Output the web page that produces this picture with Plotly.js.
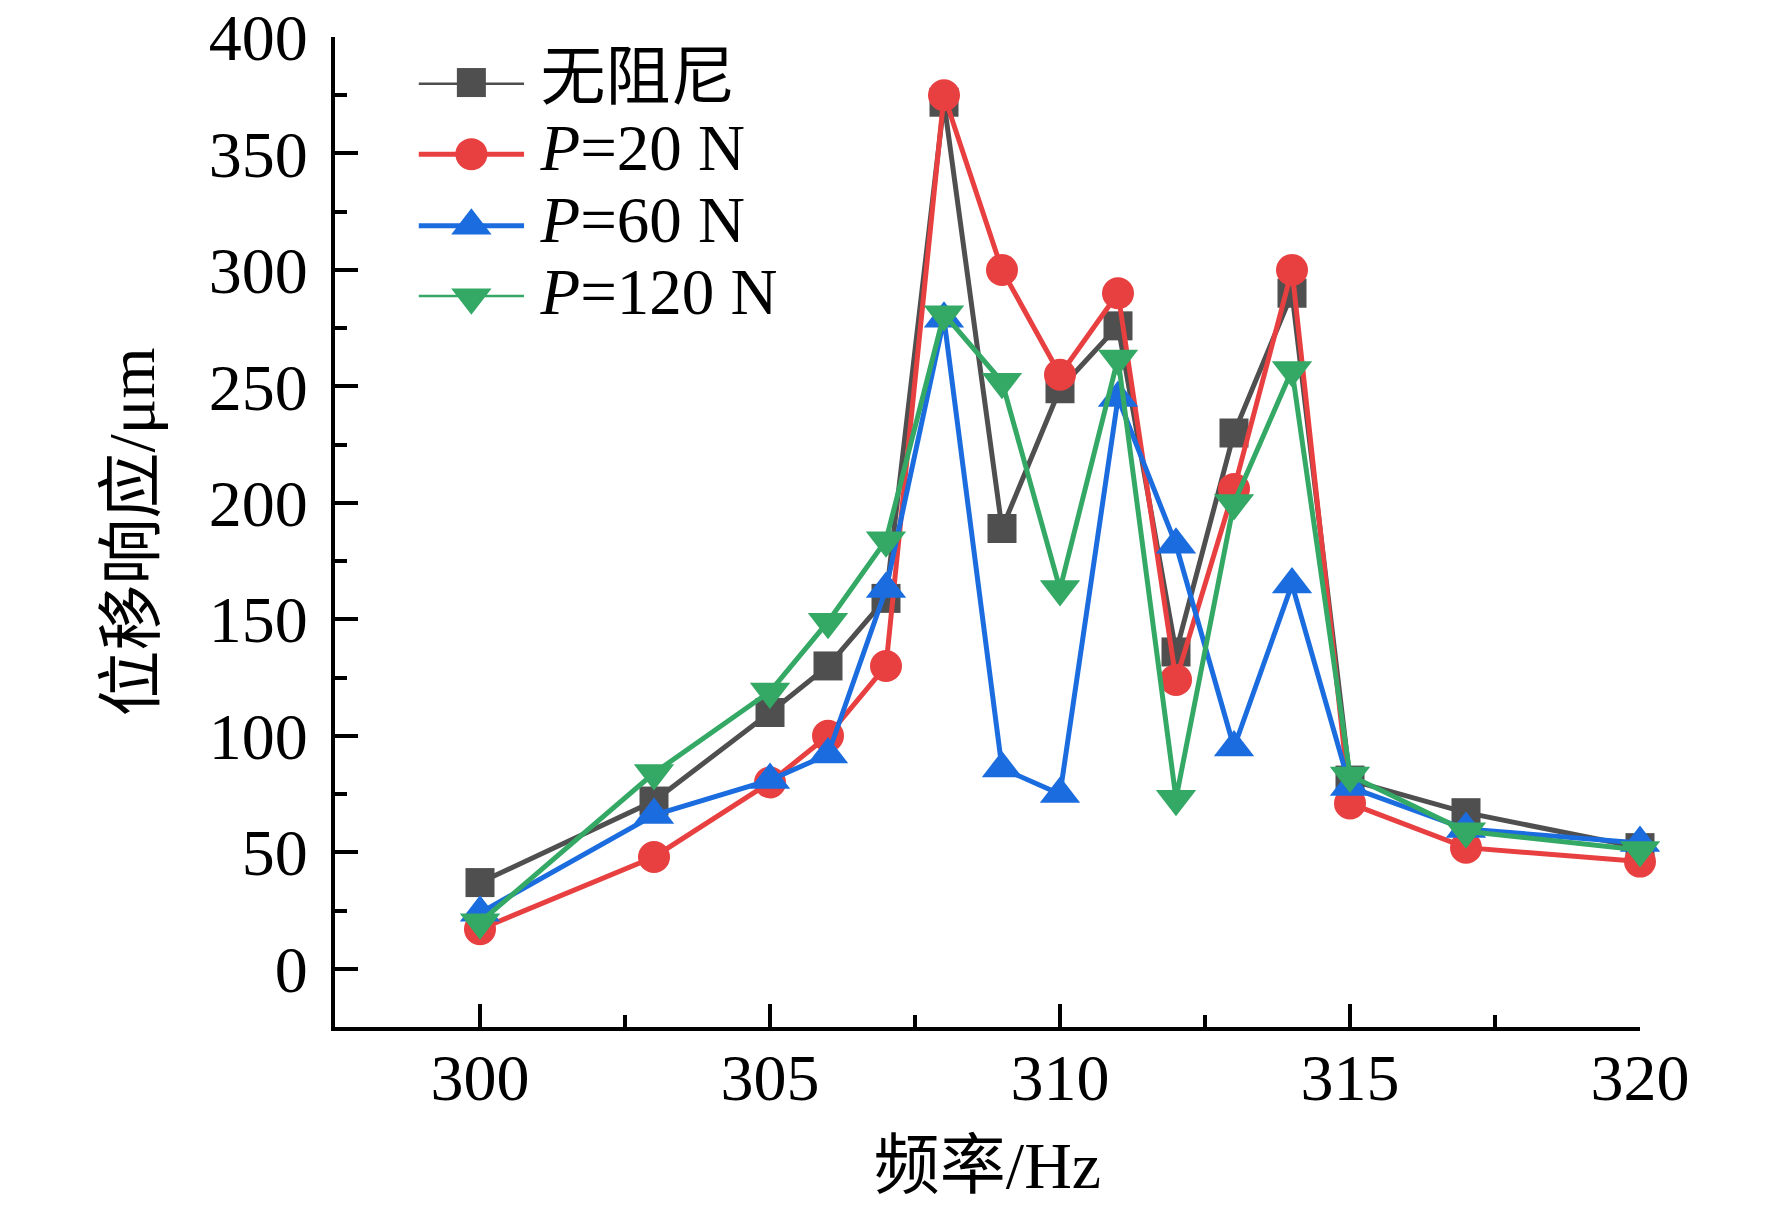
<!DOCTYPE html>
<html>
<head>
<meta charset="utf-8">
<script src="https://cdn.plot.ly/plotly-3.0.1.min.js"></script>
<style>
  html, body { margin: 0; padding: 0; background: #fff; }
  #chart { width: 1772px; height: 1205px; }
</style>
</head>
<body>
<div id="chart"></div>
<script>
// frequency (Hz)
var freq = [300, 303, 305, 306, 307, 308, 309, 310, 311, 312, 313, 314, 315, 317, 320];

// displacement response (um)
var noDamping = [37, 72, 110, 130, 159, 372, 189, 249, 276, 136, 230, 290, 81, 67, 52];
var p20 = [17, 48, 80, 100, 130, 375, 300, 255, 290, 124, 206, 300, 71, 52, 46];
var p60 = [24, 66, 81, 92, 163, 279, 86, 75, 245, 182, 95, 165, 78, 60, 54];
var p120 = [20, 84, 119, 149, 184, 281, 252, 163, 262, 73, 200, 257, 83, 59, 51];

var seriesNames = ["无阻尼", "<i>P</i>=20 N", "<i>P</i>=60 N", "<i>P</i>=120 N"];
var seriesColors = ["#4f4f4f", "#e84040", "#1b6ddf", "#34a865"];
var seriesSymbols = ["square", "circle", "triangle-up", "triangle-down"];
var seriesSizes = [29, 32, 35, 35];
var seriesValues = [noDamping, p20, p60, p120];

var FONT = "'Liberation Serif', 'Times New Roman', 'Noto Sans CJK SC', serif";

var data = [];
for (var i = 0; i < seriesValues.length; i++) {
  data.push({
    type: "scatter",
    mode: "lines+markers",
    x: freq,
    y: seriesValues[i],
    name: seriesNames[i],
    line: { color: seriesColors[i], width: 5 },
    marker: { color: seriesColors[i], symbol: seriesSymbols[i], size: seriesSizes[i], opacity: 1, line: { width: 0 } },
    cliponaxis: false,
    showlegend: false
  });
}

// hand-made legend on its own small subplot so the samples can be long
for (var j = 0; j < seriesNames.length; j++) {
  data.push({
    type: "scatter",
    mode: "lines+markers+text",
    xaxis: "x2",
    yaxis: "y2",
    x: [0, 1, 2],
    y: [j, j, j],
    text: ["", "", "\u00a0" + seriesNames[j]],
    textposition: "middle right",
    textfont: { family: FONT, size: 65, color: "#000" },
    line: { color: seriesColors[j], width: 5 },
    marker: {
      color: seriesColors[j], symbol: seriesSymbols[j],
      size: [0, seriesSizes[j], 0], opacity: 1, line: { width: 0 }
    },
    cliponaxis: false,
    showlegend: false,
    hoverinfo: "skip"
  });
}

var layout = {
  width: 1772,
  height: 1205,
  margin: { l: 335, r: 132, t: 37, b: 178 },
  paper_bgcolor: "#fff",
  plot_bgcolor: "#fff",
  font: { family: FONT, size: 65, color: "#000" },
  showlegend: false,
  xaxis: {
    range: [297.5, 320],
    dtick: 5,
    tick0: 300,
    ticks: "inside",
    ticklen: 23,
    tickwidth: 4,
    tickcolor: "#000",
    minor: { dtick: 2.5, ticks: "inside", ticklen: 12, tickwidth: 4, tickcolor: "#000" },
    showline: true,
    linewidth: 4,
    linecolor: "#000",
    showgrid: false,
    zeroline: false,
    ticklabelstandoff: -10,
    ticklabeloverflow: "allow",
    tickfont: { family: FONT, size: 66 },
    title: { text: "频率/Hz", font: { family: FONT, size: 66 }, standoff: 30 },
    automargin: false
  },
  yaxis: {
    range: [-25, 400],
    dtick: 50,
    tick0: 0,
    ticks: "inside",
    ticklen: 23,
    tickwidth: 4,
    tickcolor: "#000",
    minor: { dtick: 25, ticks: "inside", ticklen: 12, tickwidth: 4, tickcolor: "#000" },
    showline: true,
    linewidth: 4,
    linecolor: "#000",
    showgrid: false,
    zeroline: false,
    ticklabelstandoff: 10,
    ticklabeloverflow: "allow",
    tickfont: { family: FONT, size: 66 },
    title: { text: "位移响应/μm", font: { family: FONT, size: 66 }, standoff: 34 },
    automargin: false
  },
  xaxis2: {
    domain: [0.064, 0.145],
    range: [0, 2],
    anchor: "y2",
    visible: false,
    fixedrange: true
  },
  yaxis2: {
    domain: [0.737, 0.954],
    range: [3, 0],
    anchor: "x2",
    visible: false,
    fixedrange: true
  }
};

Plotly.newPlot("chart", data, layout, { staticPlot: true });
</script>
</body>
</html>
